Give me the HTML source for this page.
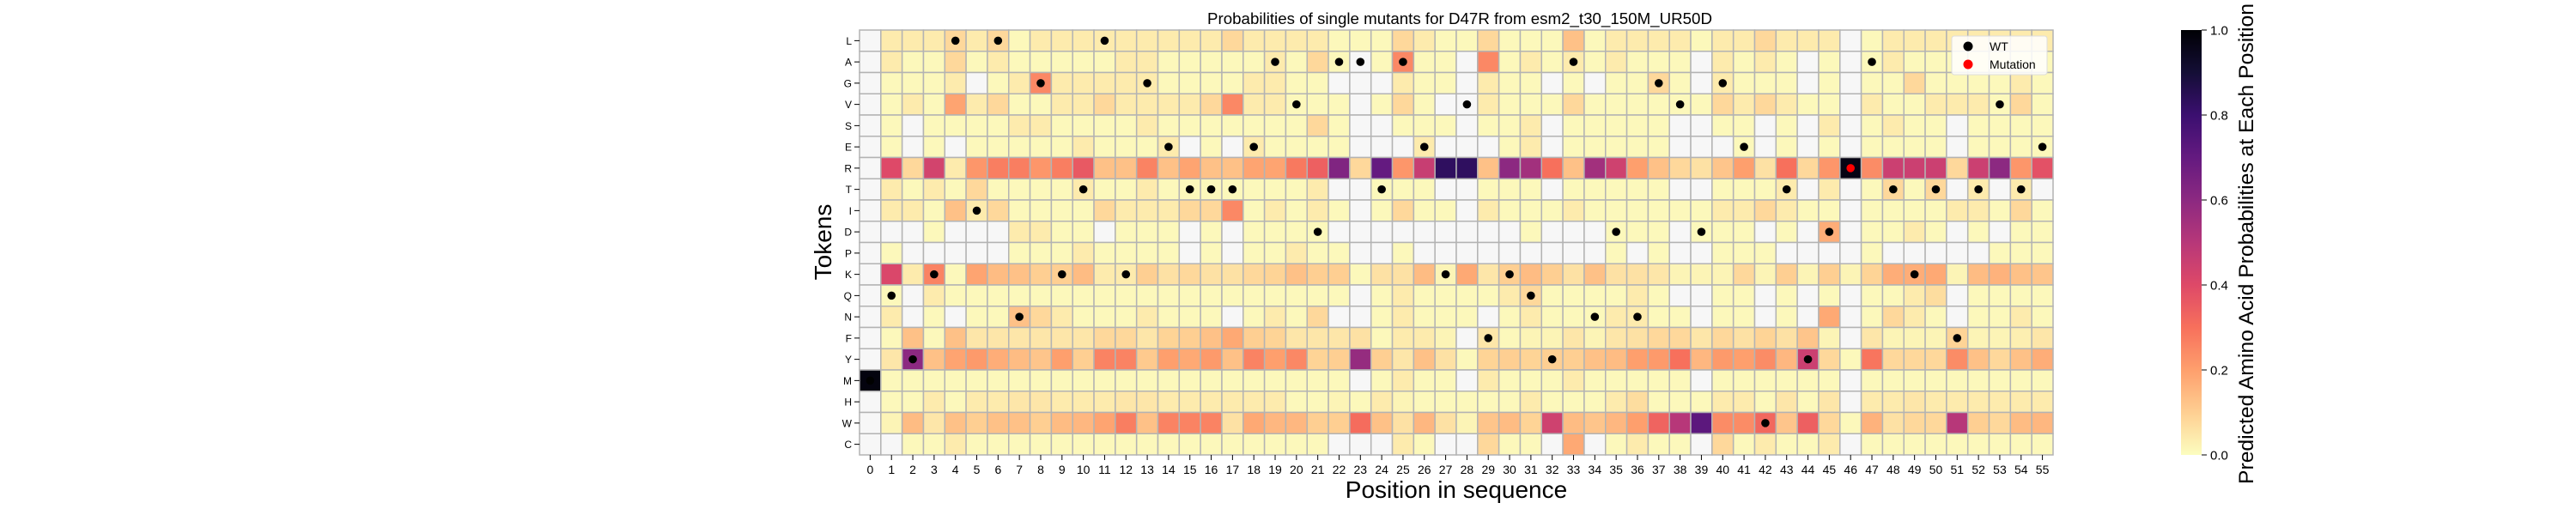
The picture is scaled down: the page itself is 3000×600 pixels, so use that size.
<!DOCTYPE html>
<html><head><meta charset="utf-8"><title>Probabilities of single mutants for D47R</title>
<style>
html,body{margin:0;padding:0;background:#fff;}
svg{display:block;font-family:"Liberation Sans","DejaVu Sans",sans-serif;}
</style></head>
<body>
<svg id="chart" width="3000" height="600" viewBox="0 0 3000 600" xmlns="http://www.w3.org/2000/svg">
<defs>
<linearGradient id="cbgrad" x1="0" y1="1" x2="0" y2="0">
<stop offset="0" stop-color="#fcfdbf"/><stop offset="0.1" stop-color="#fecf92"/><stop offset="0.2" stop-color="#fe9f6d"/><stop offset="0.3" stop-color="#f7705c"/><stop offset="0.4" stop-color="#de4968"/><stop offset="0.5" stop-color="#b73779"/><stop offset="0.6" stop-color="#8c2981"/><stop offset="0.7" stop-color="#641a80"/><stop offset="0.8" stop-color="#3b0f70"/><stop offset="0.9" stop-color="#140e36"/><stop offset="1" stop-color="#000004"/>
</linearGradient>
</defs>
<text x="1700" y="28" font-size="18" text-anchor="middle" textLength="588" lengthAdjust="spacingAndGlyphs">Probabilities of single mutants for D47R from esm2_t30_150M_UR50D</text>
<g id="cells"></g>
<g id="dots"></g>
<g id="yaxis"></g>
<g id="xaxis"></g>
<text transform="translate(968,282) rotate(-90)" font-size="28" text-anchor="middle">Tokens</text>
<text x="1696" y="580" font-size="28" text-anchor="middle">Position in sequence</text>
<g>
<rect x="2273" y="42" width="111" height="45" rx="3" fill="#ffffff" fill-opacity="0.85" stroke="#dddddd" stroke-width="1"/>
<circle cx="2292" cy="54" r="5.5" fill="#000"/>
<text x="2317" y="59" font-size="14">WT</text>
<circle cx="2292" cy="75" r="5.5" fill="#ff0000"/>
<text x="2317" y="80" font-size="14">Mutation</text>
</g>
<g id="colorbar">
<rect x="2540" y="35" width="24" height="495" fill="url(#cbgrad)"/>
</g>
<text transform="translate(2624,284) rotate(-90)" font-size="24" text-anchor="middle" textLength="560" lengthAdjust="spacingAndGlyphs">Predicted Amino Acid Probabilities at Each Position</text>
</svg>
<script>
const tokens = ["L","A","G","V","S","E","R","T","I","D","P","K","Q","N","F","Y","M","H","W","C"];
const positions = [0,1,2,3,4,5,6,7,8,9,10,11,12,13,14,15,16,17,18,19,20,21,22,23,24,25,26,27,28,29,30,31,32,33,34,35,36,37,38,39,40,41,42,43,44,45,46,47,48,49,50,51,52,53,54,55];
const probL = [null,.04,.04,.04,.08,.04,.08,.01,.04,.04,.04,.04,.04,.04,.04,.04,.04,.08,.04,.04,.04,.04,.01,.01,.01,.08,.04,.01,.01,.08,.01,.01,.01,.13,.01,.04,.04,.04,.04,.01,.04,.04,.08,.04,.04,.04,null,.01,.04,.04,.04,.04,.04,.04,.04,.04];
const probA = [null,.04,.01,.01,.08,.01,.04,.01,.01,.01,.01,.01,.04,.04,.01,.01,.01,.01,.01,.04,.01,.08,.01,null,.01,.25,.01,.01,null,.25,.01,.04,.01,.04,.01,.04,.01,.01,.01,null,.04,.01,.04,.01,null,.01,null,.01,.04,.01,.01,.01,.01,.01,.01,.01];
const probG = [null,.01,.01,.01,.04,null,.01,.04,.25,.04,.04,.04,.04,.04,.01,.01,.01,.01,.04,.04,.01,.01,null,null,null,.04,.01,.01,null,.04,.01,.01,null,.01,null,.01,.01,.08,.01,null,.04,.01,.01,.01,null,.01,null,.01,.01,.08,.01,.01,.01,.01,.04,.01];
const probV = [null,.01,.04,.01,.19,.04,.08,.01,.01,.04,.04,.08,.04,.04,.04,.04,.08,.25,.04,.04,.01,.01,.01,null,.01,.08,.01,null,null,.04,.01,.01,.01,.08,.01,.01,.01,.01,.01,.01,.08,.04,.08,.04,.01,.01,null,.04,.01,.01,.04,.04,.04,.01,.08,.01];
const probS = [null,.01,null,.01,.01,.01,.01,.04,.04,.01,.01,.01,.01,.04,.01,.01,.01,.01,.01,.01,.01,.08,.01,null,null,.01,.01,.01,null,.01,.01,.04,null,.01,.01,.01,.01,.01,null,null,.01,.01,null,.01,null,.04,null,.01,.04,.01,.01,null,.01,.01,.01,.01];
const probE = [null,.01,null,.01,null,.01,.01,.01,.01,.01,.04,.01,.01,.01,.04,null,.01,null,.04,.01,.01,.01,.01,null,null,null,.04,null,null,null,.01,.04,null,.01,.01,.01,.01,.01,null,null,null,.01,null,.01,null,.01,null,.01,.01,.01,.01,null,.01,.01,.01,.01];
const probR = [null,.40,.08,.43,.04,.22,.27,.27,.22,.27,.36,.13,.13,.26,.13,.19,.13,.13,.19,.19,.28,.34,.63,.08,.70,.22,.46,.83,.83,.13,.60,.55,.30,.13,.55,.44,.20,.13,.08,.06,.12,.20,.06,.30,.08,.22,.97,.24,.45,.45,.45,.08,.45,.60,.22,.38];
const probT = [null,.04,.01,.04,.01,.08,.01,.01,.01,.01,.04,.01,.01,.04,.01,.01,.01,.01,.01,.01,.01,.04,null,null,.01,.01,.01,null,null,.01,.01,.01,null,.01,.01,.01,.01,.01,null,null,.01,.01,.01,.04,null,.04,null,.01,.08,.01,.08,null,.04,null,.04,null];
const probI = [null,.04,.04,.01,.13,.04,.08,.01,.01,.01,.01,.08,.04,.04,.04,.08,.08,.25,.01,.04,.01,.04,.01,null,.01,.08,.01,.01,null,.04,.01,.01,.01,.04,.01,.01,.01,.01,.01,.01,.04,.04,.08,.04,.01,.01,null,.01,.01,.01,.01,.04,.04,.01,.08,.01];
const probD = [null,null,null,.01,null,null,null,.04,.04,.01,.01,null,.01,.01,.01,null,.01,null,.01,.01,.01,.01,null,null,null,null,null,null,null,null,null,.01,null,null,null,.01,.01,.01,null,.01,.01,.01,null,.01,null,.17,null,.01,.01,.04,.01,null,.01,null,.01,.01];
const probP = [null,.01,null,null,null,null,null,.01,.01,.01,.04,.01,.01,.01,.01,null,.01,null,.01,.01,.04,.01,.01,null,null,.01,null,null,null,null,null,null,null,null,null,.01,null,.01,null,null,.01,.01,.01,null,null,null,null,.01,null,null,null,null,null,.01,.01,.01];
const probK = [null,.41,.04,.26,.01,.19,.14,.13,.10,.10,.14,.04,.04,.10,.06,.08,.06,.06,.08,.09,.13,.10,.10,.01,.06,.06,.14,.02,.18,.05,.10,.14,.10,.06,.13,.06,.06,.05,.02,.02,.02,.08,.02,.10,.02,.10,.02,.09,.17,.17,.18,.02,.14,.16,.13,.12];
const probQ = [null,.01,null,.04,.01,.01,.01,.01,.01,.01,.01,.01,.01,.01,.01,.01,.01,.01,.01,.01,.01,.01,.01,null,.01,.04,.01,.01,.01,.01,.04,.08,.01,.01,.01,.01,.04,.01,null,null,.01,.01,null,.01,null,.01,null,.01,.01,.04,.07,null,.01,.01,.01,.01];
const probN = [null,.04,null,.01,null,.01,.01,.13,.08,.04,.01,.01,.01,.04,.01,.01,.01,null,.01,.04,.01,.08,null,null,.01,.04,.01,.01,.01,null,.01,.04,.01,.01,.01,.04,.04,.01,.01,null,.01,.01,null,.01,null,.18,null,.01,.08,.04,.01,null,.01,.01,.04,.01];
const probF = [null,.01,.13,.01,.13,.05,.05,.05,.05,.05,.05,.08,.08,.05,.09,.10,.13,.18,.10,.09,.05,.05,.05,.06,.01,.04,.04,.02,null,.05,.01,.02,.02,.05,.02,.05,.06,.08,.08,.05,.08,.06,.09,.06,.12,.02,null,.05,.02,.02,.02,.09,.02,.02,.03,.05];
const probY = [null,.05,.60,.13,.19,.21,.17,.14,.12,.20,.10,.26,.26,.11,.20,.18,.21,.13,.26,.20,.25,.09,.10,.58,.10,.05,.13,.06,.01,.09,.10,.09,.10,.10,.13,.14,.20,.21,.30,.15,.21,.20,.24,.15,.45,.08,.01,.29,.08,.08,.08,.24,.13,.08,.13,.17];
const probM = [.98,.01,.01,.01,.01,.01,.01,.01,.01,.01,.01,.01,.01,.01,.01,.01,.01,.01,.01,.01,.01,.01,.01,null,.01,.04,.01,.01,null,.04,.01,.01,.01,.04,.01,.01,.01,.01,.01,null,.01,.01,.01,.01,.01,.01,null,.01,.01,.01,.01,.01,.01,.01,.01,.01];
const probH = [null,.01,.01,.04,.01,.04,.04,.05,.05,.04,.04,.04,.05,.05,.04,.04,.04,.04,.04,.04,.01,.01,.02,.01,.04,.02,.01,.01,.01,.01,.01,.04,.01,.01,.01,.04,.07,.01,.01,.01,.04,.04,.01,.05,.01,.05,null,.04,.04,.05,.04,.04,.04,.04,.04,.04];
const probW = [null,.02,.14,.05,.13,.10,.13,.13,.10,.14,.15,.19,.27,.13,.26,.26,.26,.06,.18,.15,.15,.10,.10,.31,.13,.06,.15,.06,.02,.12,.14,.09,.44,.14,.12,.15,.20,.33,.50,.72,.24,.24,.32,.12,.34,.08,.01,.16,.06,.08,.08,.50,.10,.08,.14,.15];
const probC = [null,null,.01,.01,.04,.01,.01,.01,.01,.01,.01,.01,.01,.01,.01,.01,.01,.01,.01,.01,.01,.01,null,null,null,.04,.01,null,null,.08,.01,.01,null,.18,null,.01,.04,.01,.01,null,.08,.01,.04,.01,.01,.04,null,.01,.01,.01,.01,.01,.01,.01,.01,.01];
const wildType = ["M","Q","Y","K","L","I","L","N","G","K","T","L","K","G","E","T","T","T","E","A","V","D","A","A","T","A","E","K","V","F","K","Q","Y","A","N","D","N","G","V","D","G","E","W","T","Y","D","R","A","T","K","T","F","T","V","T","E"];
const mutationPos = [46];
const mutationToken = ["R"];
const cbTicks = [0.0,0.2,0.4,0.6,0.8,1.0];
const cbTickLabels = ["0.0","0.2","0.4","0.6","0.8","1.0"];

const probRows = [probL,probA,probG,probV,probS,probE,probR,probT,probI,probD,probP,probK,probQ,probN,probF,probY,probM,probH,probW,probC];

const NS = "http://www.w3.org/2000/svg";
const X0 = 1001, X1 = 2391, Y0 = 35, Y1 = 530;
const cw = (X1 - X0) / positions.length;
const ch = (Y1 - Y0) / tokens.length;
function xScale(i){ return X0 + i * cw; }
function yScale(j){ return Y0 + j * ch; }
const magma = [[0,0,4],[20,14,54],[59,15,112],[100,26,128],[140,41,129],[183,55,121],[222,73,104],[247,112,92],[254,159,109],[254,207,146],[252,253,191]];
function color(v){
  const t = Math.max(0, Math.min(1, 1 - v)) * 10;
  const i = Math.min(9, Math.floor(t)), f = t - i;
  const a = magma[i], b = magma[i+1];
  return "rgb(" + [0,1,2].map(k => Math.round(a[k] + (b[k]-a[k]) * f)).join(",") + ")";
}
function mk(tag, attrs, parent){
  const e = document.createElementNS(NS, tag);
  for (const k in attrs) e.setAttribute(k, attrs[k]);
  parent.appendChild(e);
  return e;
}
const cells = document.getElementById("cells");
probRows.forEach((row, j) => {
  row.forEach((v, i) => {
    const r = mk("rect", {x: xScale(i), y: yScale(j), width: cw, height: ch,
      fill: v === null ? "#f7f7f7" : color(v), stroke: "#b3b3b3", "stroke-width": 1.5}, cells);
    
    
  });
});
const dots = document.getElementById("dots");
wildType.forEach((tok, i) => {
  const j = tokens.indexOf(tok);
  if (j < 0) return;
  const c = mk("circle", {cx: xScale(i) + cw/2, cy: yScale(j) + ch/2, r: 4.8, fill: "#000"}, dots);
  
  
});
mutationPos.forEach((p, k) => {
  const j = tokens.indexOf(mutationToken[k]);
  const c = mk("circle", {cx: xScale(p) + cw/2, cy: yScale(j) + ch/2, r: 4.8, fill: "#ff0000"}, dots);
  
  
});
const yaxis = document.getElementById("yaxis");
tokens.forEach((t, j) => {
  const cy = yScale(j) + ch/2;
  const tk = mk("line", {x1: X0 - 6, x2: X0, y1: cy, y2: cy, stroke: "#000", "stroke-width": 1}, yaxis);
  
  
  const tx = mk("text", {x: X0 - 9, y: cy + 4.5, "font-size": 12, "text-anchor": "end"}, yaxis);
  tx.textContent = t;
  
  
});
const xaxis = document.getElementById("xaxis");
positions.forEach((p, i) => {
  const cx = xScale(i) + cw/2;
  const tk = mk("line", {x1: cx, x2: cx, y1: Y1, y2: Y1 + 6, stroke: "#000", "stroke-width": 1}, xaxis);
  
  
  const tx = mk("text", {x: cx, y: Y1 + 22, "font-size": 14, "text-anchor": "middle"}, xaxis);
  tx.textContent = String(p);
  
  
});
const cb = document.getElementById("colorbar");
cbTicks.forEach((v, k) => {
  const y = Y1 - v * (Y1 - Y0);
  const tk = mk("line", {x1: 2564, x2: 2570, y1: y, y2: y, stroke: "#000", "stroke-width": 1}, cb);
  
  
  const tx = mk("text", {x: 2574, y: y + 5.5, "font-size": 15}, cb);
  tx.textContent = cbTickLabels[k];
  
  
});
</script>
</body></html>
